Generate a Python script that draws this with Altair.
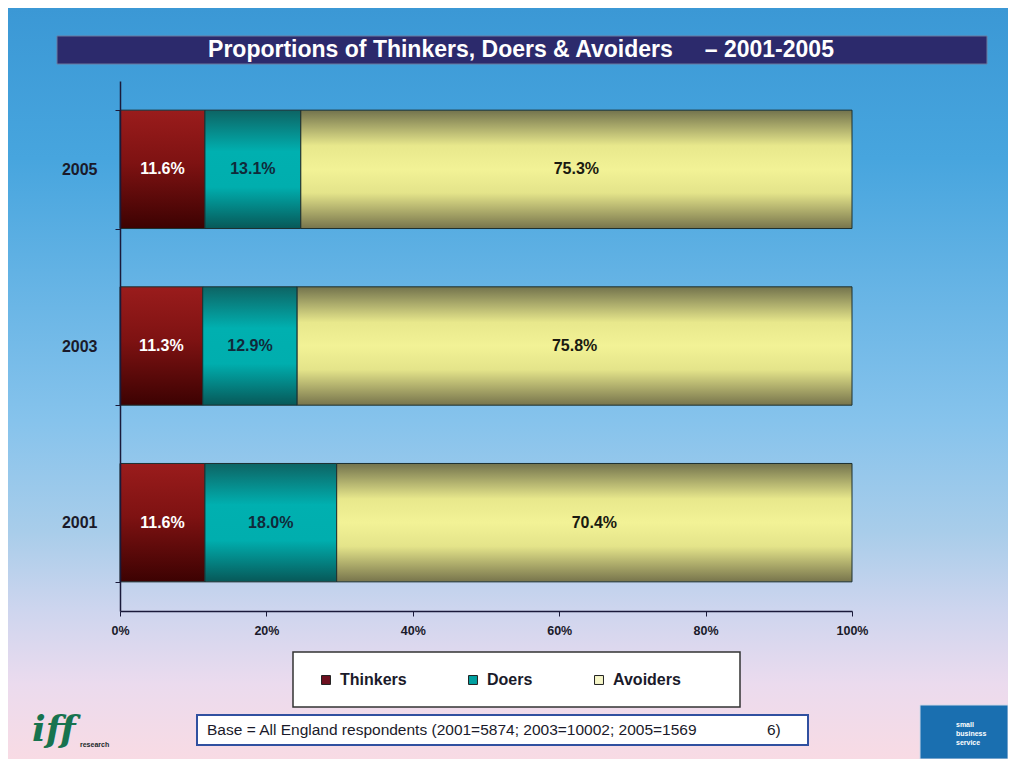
import altair as alt
import pandas as pd

# ---- data ----
years = ["2005", "2003", "2001"]
series = ["Thinkers", "Doers", "Avoiders"]
thinkers = [11.6, 11.3, 11.6]
doers = [13.1, 12.9, 18.0]
avoiders = [75.3, 75.8, 70.4]
x_ticks = [0, 20, 40, 60, 80, 100]

title_text = "Proportions of Thinkers, Doers & Avoiders\u00a0\u00a0\u00a0\u00a0\u00a0– 2001-2005"
base_text = "Base = All England respondents (2001=5874; 2003=10002; 2005=1569"
base_tail = "6)"

rows = []
for i, y in enumerate(years):
    start = 0.0
    for s, vals in zip(series, [thinkers, doers, avoiders]):
        v = vals[i]
        rows.append({"year": y, "series": s, "value": v, "start": start,
                     "end": start + v, "mid": start + v / 2,
                     "label": f"{v:.1f}%"})
        start += v
df = pd.DataFrame(rows)

W, H = 732, 530
PADL, PADT, PADR, PADB = 112, 73, 156, 148

one = pd.DataFrame({"k": [0]})

def grad(stops, vertical=True):
    return alt.LinearGradient(
        gradient="linear",
        stops=[alt.GradientStop(offset=o, color=c) for o, c in stops],
        x1=0, y1=0, x2=0 if vertical else 1, y2=1 if vertical else 0)

bg = alt.Chart(one).mark_rect(
    fill=grad([(0, "#3b98d5"), (0.2, "#47a5de"), (0.55, "#86c3ec"),
               (0.7, "#a9cdea"), (0.8, "#cdd5ee"), (0.9, "#ebdbee"), (1, "#f8dbe4")])
).encode(x=alt.value(-PADL), x2=alt.value(W + PADR), y=alt.value(-PADT), y2=alt.value(H + PADB))

title_bar = alt.Chart(one).mark_rect(fill="#2c2a6c", stroke="#6b7aa0", strokeWidth=1).encode(
    x=alt.value(-63), x2=alt.value(867), y=alt.value(-45), y2=alt.value(-17))
title_mark = alt.Chart(one).mark_text(
    text=title_text, font="Liberation Sans", fontWeight="bold", fontSize=23,
    color="white", align="center", baseline="middle").encode(
    x=alt.value(401), y=alt.value(-31))

yscale = alt.Scale(domain=years, paddingInner=0.33, paddingOuter=0.165)
xscale = alt.Scale(domain=[0, 100], nice=False)

xaxis = alt.Axis(values=x_ticks, labelExpr="datum.value + '%'", title=None,
                 labelFont="Liberation Sans", labelFontWeight="bold", labelFontSize=12.5,
                 labelColor="#1a1a2a", domainColor="#1a1a3a", tickColor="#1a1a3a",
                 grid=False, tickSize=5, labelPadding=8, zindex=1, domainWidth=1.5,
                 labelFlush=False)
yaxis = alt.Axis(title=None, labelFont="Liberation Sans", labelFontWeight="bold",
                 labelFontSize=16, labelColor="#1a1a2a", domainColor="#1a1a3a",
                 tickColor="#1a1a3a", tickBand="extent", tickSize=5, labelPadding=18,
                 grid=False, zindex=1, domainWidth=1.5)

grads = {
    "Thinkers": [(0, "#9a1c1c"), (0.45, "#7e1212"), (1, "#3c0202")],
    "Doers": [(0, "#0d6464"), (0.35, "#00b0b0"), (0.65, "#00aeae"), (1, "#075858")],
    "Avoiders": [(0, "#73734d"), (0.3, "#e8e88c"), (0.5, "#f2f296"), (0.7, "#e4e48a"), (1, "#77744c")],
}

bars = []
for s in series:
    b = alt.Chart(df).transform_filter(alt.datum.series == s).mark_bar(
        fill=grad(grads[s]), stroke="#1c3030", strokeWidth=1).encode(
        y=alt.Y("year:N", scale=yscale, axis=yaxis, sort=years),
        x=alt.X("start:Q", scale=xscale, axis=xaxis),
        x2="end:Q")
    bars.append(b)

labels = alt.Chart(df).mark_text(font="Liberation Sans", fontWeight="bold", fontSize=16,
                                 baseline="middle").encode(
    y=alt.Y("year:N", scale=yscale, sort=years),
    x=alt.X("mid:Q", scale=xscale),
    text="label:N",
    color=alt.Color("series:N", scale=alt.Scale(domain=series, range=["#ffffff", "#102a3a", "#1a1a10"]),
                    legend=None))

legend_box = alt.Chart(one).mark_rect(fill="white", stroke="#333", strokeWidth=1.5).encode(
    x=alt.value(173), x2=alt.value(620), y=alt.value(571), y2=alt.value(626))

legend_layer = alt.Chart(df).mark_square(opacity=0, size=0).encode(
    fill=alt.Fill("series:N", scale=alt.Scale(domain=series, range=["#6e1020", "#00a0a0", "#f6f6c8"]),
                  legend=alt.Legend(orient="none", legendX=178, legendY=571, direction="horizontal",
                                    columns=3, title=None, symbolType="square", symbolSize=80,
                                    symbolOpacity=1, symbolStrokeColor="#222", symbolStrokeWidth=1,
                                    labelFont="Liberation Sans", labelFontWeight="bold",
                                    labelFontSize=16, labelColor="#1a1a2a", columnPadding=58,
                                    padding=20, zindex=1, labelOffset=6)))

base_box = alt.Chart(one).mark_rect(fill="white", stroke="#3050a0", strokeWidth=2).encode(
    x=alt.value(77), x2=alt.value(688), y=alt.value(634), y2=alt.value(664))
base_t1 = alt.Chart(one).mark_text(text=base_text, font="Liberation Sans", fontSize=15.5,
                                   color="#1a1a2a", align="left", baseline="middle").encode(
    x=alt.value(87), y=alt.value(649))
base_t2 = alt.Chart(one).mark_text(text=base_tail, font="Liberation Sans", fontSize=15.5,
                                   color="#1a1a2a", align="left", baseline="middle").encode(
    x=alt.value(647), y=alt.value(649))

# logos (approximations)
sbs_box = alt.Chart(one).mark_rect(fill="#1a6fb0", stroke="#d0d8e8").encode(
    x=alt.value(800), x2=alt.value(W + PADR), y=alt.value(624), y2=alt.value(H + PADB))
sbs_txt = alt.Chart(pd.DataFrame({"t": ["small", "business", "service"], "y": [644, 653, 662]})).mark_text(
    font="Liberation Sans", fontSize=7, fontWeight="bold", color="white", align="left").encode(
    x=alt.value(836), y=alt.Y("y:Q", scale=None), text="t:N")
iff_txt = alt.Chart(one).mark_text(text="iff", font="DejaVu Serif", fontStyle="italic",
                                   fontWeight="bold", fontSize=36, color="#17734f",
                                   align="left", baseline="alphabetic").encode(
    x=alt.value(-88), y=alt.value(660))
res_txt = alt.Chart(one).mark_text(text="research", font="Liberation Sans", fontSize=7,
                                   fontWeight="bold", color="#1a2a2a", align="left").encode(
    x=alt.value(-40), y=alt.value(664))

chart = alt.layer(bg, title_bar, title_mark, *bars, labels, legend_box, legend_layer,
                  base_box, base_t1, base_t2, sbs_box, sbs_txt, iff_txt, res_txt).resolve_scale(
    color="independent", fill="independent").properties(
    width=W, height=H,
    padding={"left": PADL, "top": PADT, "right": PADR, "bottom": PADB},
    autosize=alt.AutoSizeParams(type="none"),
    background="white"
).configure_view(stroke=None)

chart.save("out.html", embed_options={"renderer": "svg", "actions": False})
